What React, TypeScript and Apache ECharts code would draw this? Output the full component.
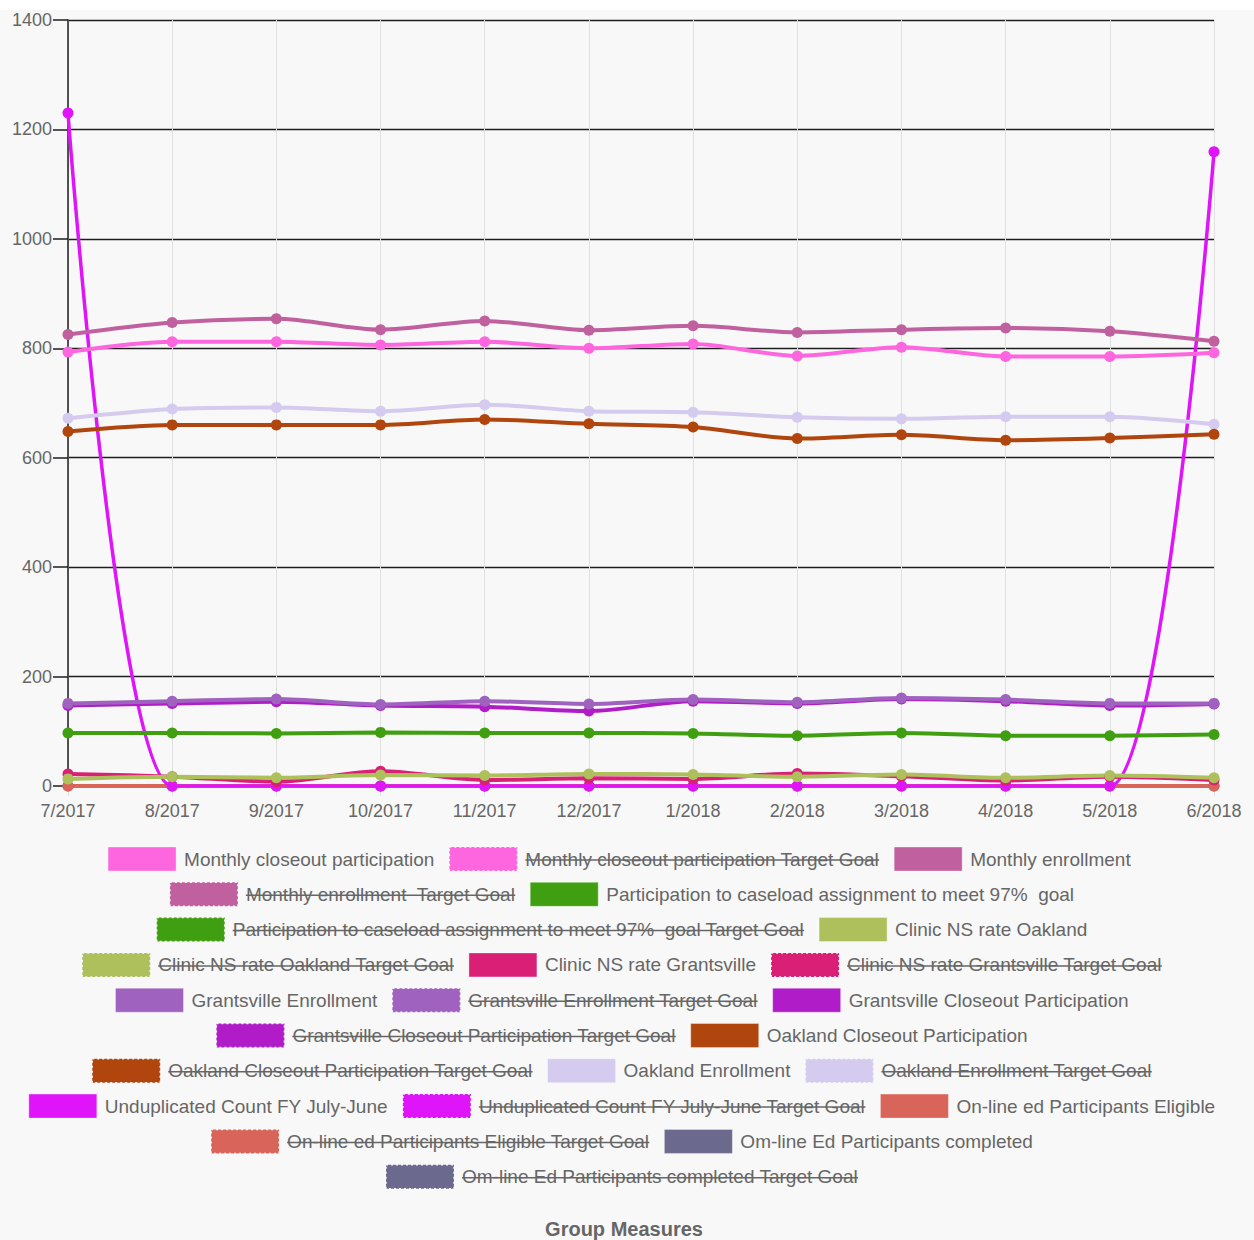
import React, { useEffect, useRef } from 'react';
import * as echarts from 'echarts';

const MONTHS = ['7/2017', '8/2017', '9/2017', '10/2017', '11/2017', '12/2017', '1/2018', '2/2018', '3/2018', '4/2018', '5/2018', '6/2018'];

const monthlyCloseout = [793, 812, 812, 806, 812, 800, 808, 786, 802, 785, 785, 792];
const monthlyEnrollment = [825, 847, 854, 834, 850, 833, 841, 829, 834, 837, 831, 813];
const participationCaseload = [97, 97, 96, 98, 97, 97, 96, 92, 97, 92, 92, 94];
const nsOakland = [13, 17, 15, 20, 19, 22, 21, 17, 21, 15, 19, 15];
const nsGrantsville = [22, 17, 8, 27, 11, 14, 13, 23, 18, 10, 17, 11];
const grantsvilleEnrollment = [151, 155, 159, 149, 155, 150, 158, 153, 161, 158, 151, 151];
const grantsvilleCloseout = [147, 151, 154, 147, 145, 137, 155, 151, 159, 155, 147, 150];
const oaklandCloseout = [648, 660, 660, 660, 670, 662, 656, 635, 642, 632, 636, 643];
const oaklandEnrollment = [672, 689, 692, 685, 697, 685, 683, 674, 671, 675, 675, 661];
const unduplicated = [1230, 0, 0, 0, 0, 0, 0, 0, 0, 0, 0, 1159];
const onlineEligible = [0, 0, 0, 0, 0, 0, 0, 0, 0, 0, 0, 0];
const onlineCompleted = [0, 0, 0, 0, 0, 0, 0, 0, 0, 0, 0, 0];

const SERIES_NAMES = [
  'Monthly closeout participation',
  'Monthly enrollment ',
  'Participation to caseload assignment to meet 97%  goal',
  'Clinic NS rate Oakland',
  'Clinic NS rate Grantsville',
  'Grantsville Enrollment',
  'Grantsville Closeout Participation',
  'Oakland Closeout Participation',
  'Oakland Enrollment',
  'Unduplicated Count FY July-June',
  'On-line ed Participants Eligible',
  'Om-line Ed Participants completed',
];
const SERIES_COLORS = [
  '#fd66de', '#c0609f', '#3f9f10', '#adc05b', '#da2076', '#9f63bf',
  '#b01dc8', '#b0450e', '#d4cbef', '#df14f8', '#d9645a', '#6b6a8e',
];
const SERIES_DATA = [
  monthlyCloseout, monthlyEnrollment, participationCaseload, nsOakland, nsGrantsville,
  grantsvilleEnrollment, grantsvilleCloseout, oaklandCloseout, oaklandEnrollment,
  unduplicated, onlineEligible, onlineCompleted,
];
const TARGET_SUFFIX = ' Target Goal';
const LEGEND_ROW_SIZES = [3, 2, 2, 3, 3, 2, 3, 3, 2, 1];
const TITLE = 'Group Measures';

const FONT = '"Liberation Sans", Arial, Helvetica, sans-serif';

export default function App() {
  const ref = useRef<HTMLDivElement>(null);
  useEffect(() => {
    if (!ref.current) return;
    const chart = echarts.init(ref.current, null, { renderer: 'svg' });

    const canvas = document.createElement('canvas');
    const ctx = canvas.getContext('2d')!;
    const legendFontSize = 19;
    ctx.font = `${legendFontSize}px ${FONT}`;

    const entries: { name: string; color: string; hidden: boolean }[] = [];
    SERIES_NAMES.forEach((n, i) => {
      entries.push({ name: n, color: SERIES_COLORS[i], hidden: false });
      entries.push({ name: n + TARGET_SUFFIX, color: SERIES_COLORS[i], hidden: true });
    });

    const boxW = 68, boxH = 24, boxGap = 8, itemGap = 15;
    const centerX = 622;
    const rowY0 = 849, rowStep = 35.3;
    const graphics: any[] = [];
    let idx = 0;
    LEGEND_ROW_SIZES.forEach((size, r) => {
      const items = entries.slice(idx, idx + size);
      idx += size;
      const widths = items.map((it) => ctx.measureText(it.name).width);
      const total = widths.reduce((a, w) => a + boxW + boxGap + w, 0) + itemGap * (items.length - 1);
      let x = centerX - total / 2;
      const cy = rowY0 + r * rowStep;
      items.forEach((it, k) => {
        graphics.push({
          type: 'rect', silent: true,
          shape: { x: x, y: cy - boxH / 2, width: boxW, height: boxH },
          style: it.hidden
            ? { fill: it.color, stroke: '#f8f8f8', lineWidth: 1.5, lineDash: [2, 3] }
            : { fill: it.color, stroke: 'rgba(255,255,255,0.35)', lineWidth: 1 },
        });
        const tx = x + boxW + boxGap;
        graphics.push({
          type: 'text', silent: true,
          x: tx, y: cy,
          style: {
            text: it.name, fill: '#666', font: `${legendFontSize}px ${FONT}`,
            textAlign: 'left', textVerticalAlign: 'middle', align: 'left', verticalAlign: 'middle',
          },
        });
        if (it.hidden) {
          graphics.push({
            type: 'line', silent: true,
            shape: { x1: tx, y1: cy + 1, x2: tx + widths[k], y2: cy + 1 },
            style: { stroke: '#666', lineWidth: 1.5 },
          });
        }
        x += boxW + boxGap + widths[k] + itemGap;
      });
    });
    graphics.push({
      type: 'text', silent: true, x: 624, y: 1219,
      style: {
        text: TITLE, fill: '#666', font: `bold 20px ${FONT}`,
        textAlign: 'center', textVerticalAlign: 'middle', align: 'center', verticalAlign: 'middle',
      },
    });

    const series: any[] = [];
    for (let i = SERIES_NAMES.length - 1; i >= 0; i--) {
      const c = SERIES_COLORS[i];
      series.push({
        type: 'line',
        name: SERIES_NAMES[i],
        data: SERIES_DATA[i],
        smooth: 0.3,
        symbol: 'circle',
        symbolSize: 11,
        showSymbol: true,
        lineStyle: { width: i === 9 ? 3.5 : 4, color: c },
        itemStyle: { color: c },
      });
    }

    chart.setOption({
      animation: false,
      backgroundColor: '#f8f8f8',
      textStyle: { fontFamily: FONT },
      grid: { left: 68, right: 40, top: 10, bottom: 454, containLabel: false },
      xAxis: {
        type: 'category', data: MONTHS, boundaryGap: false,
        axisLine: { show: false },
        axisTick: { show: true, length: 10, lineStyle: { color: '#e0e0e0', width: 1 } },
        splitLine: { show: true, lineStyle: { color: '#e0e0e0', width: 1 } },
        axisLabel: { color: '#666', fontSize: 18, margin: 16, fontFamily: FONT },
      },
      yAxis: {
        type: 'value', min: 0, max: 1400, interval: 200,
        axisLine: { show: true, lineStyle: { color: '#1e1e1e', width: 1.5 } },
        axisTick: { show: true, length: 15, lineStyle: { color: '#1e1e1e', width: 1.5 } },
        splitLine: { show: true, lineStyle: { color: '#1e1e1e', width: 1.3 } },
        axisLabel: { color: '#666', fontSize: 18, margin: 16, fontFamily: FONT, formatter: (v: number) => String(v) },
      },
      series,
      graphic: graphics,
    });
    return () => chart.dispose();
  }, []);
  return (
    <div style={{ position: 'fixed', left: 0, top: 0, width: 1254, height: 1240, background: '#ffffff' }}>
      <div ref={ref} style={{ position: 'absolute', left: 0, top: 10, width: 1254, height: 1230 }} />
    </div>
  );
}
